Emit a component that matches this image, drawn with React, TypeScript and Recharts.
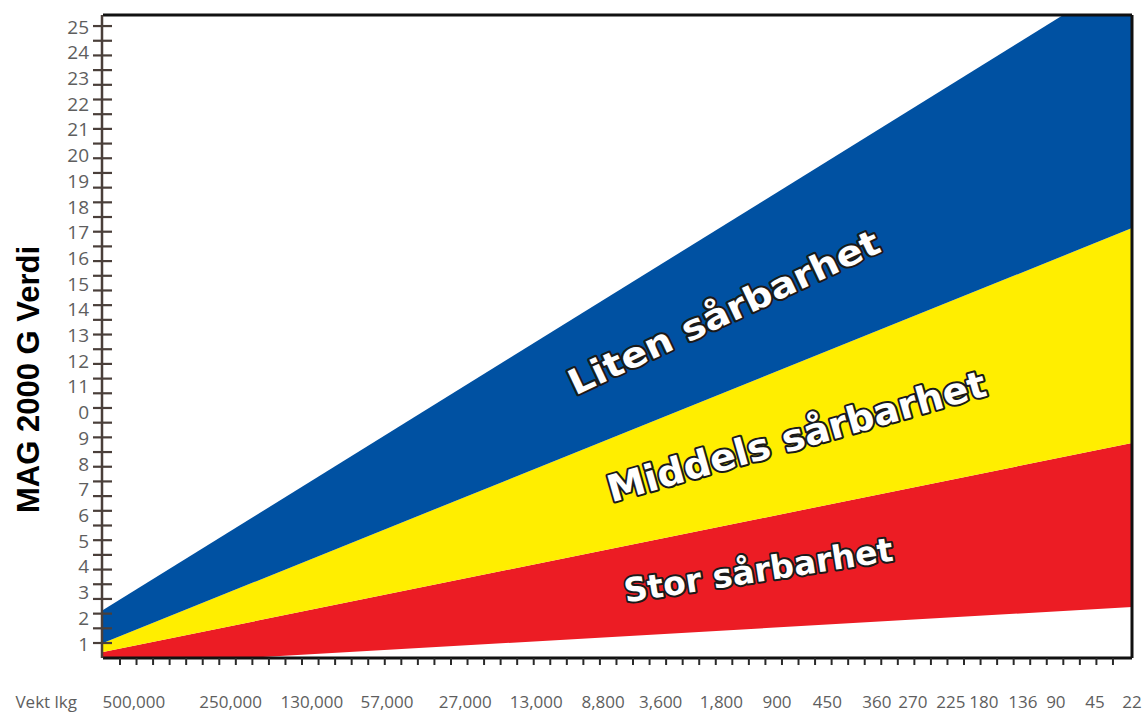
import React from 'react';
import { ComposedChart, Area, XAxis, YAxis, Scatter, Label, ReferenceLine } from 'recharts';

// Band boundaries at the left (x=0) and right (x=100) ends of the chart
const xEnds = [0, 100];
const redLow = [0.1, 2.4];
const redTop = [0.65, 8.78];
const yellowTop = [1.0, 17.14];
const blueTop = [2.28, 27.09];

// Weight labels along the bottom (Vekt lkg) and their positions on the 0-100 axis
const weightLabels = ['500,000', '250,000', '130,000', '57,000', '27,000', '13,000', '8,800', '3,600', '1,800', '900', '450', '360', '270', '225', '180', '136', '90', '45', '22'];
const weightPos = [3.0, 12.4, 20.3, 27.6, 35.2, 42.1, 48.6, 54.2, 60.1, 65.5, 70.4, 75.2, 78.7, 82.4, 85.6, 89.4, 92.6, 96.4, 100];

// Y axis labels (the original prints "0" at 10)
const yLabelValues = [1, 2, 3, 4, 5, 6, 7, 8, 9, 10, 11, 12, 13, 14, 15, 16, 17, 18, 19, 20, 21, 22, 23, 24, 25];
const yLabelText = ['1', '2', '3', '4', '5', '6', '7', '8', '9', '0', '11', '12', '13', '14', '15', '16', '17', '18', '19', '20', '21', '22', '23', '24', '25'];

// Zone annotations
const zoneText = ['Liten sårbarhet', 'Middels sårbarhet', 'Stor sårbarhet'];
const zoneX = [60.84, 67.74, 63.85];
const zoneY = [13.43, 8.55, 3.39];
const zoneAngle = [-25.2, -15.9, -8.9];

const Y_DOMAIN: [number, number] = [0.417, 25.43];
const X_DOMAIN: [number, number] = [0, 100];

const yTickMarks: number[] = [];
for (let k = 0; k <= 42; k++) yTickMarks.push(1 + (k * 24) / 42);
const xTickMarks: number[] = [];
for (let k = 0; k <= 60; k++) xTickMarks.push(1.65 + (k * (98.15 - 1.65)) / 60);

const tableData = xEnds.map((x, i) => ({
  x,
  red: [redLow[i], redTop[i]],
  yellow: [redTop[i], yellowTop[i]],
  blue: [yellowTop[i], blueTop[i]],
}));

const zoneData = zoneText.map((t, i) => ({ x: zoneX[i], y: zoneY[i], text: t, angle: zoneAngle[i] }));
const zoneSize = [35, 37, 33];
const zoneLen = [340, 392, 272];

const LABEL_FONT = '"Open Sans", "DejaVu Sans", sans-serif';
const LABEL_COLOR = '#5e5e5e';

const EmptyTick = () => <g />;

const YMarkTick = (props: any) => {
  const { x, y } = props;
  return <line x1={x - 9} x2={x + 10} y1={y} y2={y} stroke="#4a3f3a" strokeWidth={2.2} />;
};

const YLabelTick = (props: any) => {
  const { x, y, payload } = props;
  const idx = yLabelValues.indexOf(payload.value);
  return (
    <text x={x - 14} y={y + 7.5} textAnchor="end" fontFamily={LABEL_FONT} fontSize={19} fill={LABEL_COLOR}>
      {idx >= 0 ? yLabelText[idx] : ''}
    </text>
  );
};

const WeightTick = (props: any) => {
  const { x, y, payload } = props;
  const idx = weightPos.indexOf(payload.value);
  return (
    <text x={x} y={y + 40} textAnchor="middle" fontFamily={LABEL_FONT} fontSize={17} fill={LABEL_COLOR}>
      {idx >= 0 ? weightLabels[idx] : ''}
    </text>
  );
};

const ZoneShape = (props: any) => {
  const { cx, cy, payload } = props;
  const i = zoneText.indexOf(payload.text);
  return (
    <text
      x={cx}
      y={cy}
      textAnchor="middle"
      transform={`rotate(${payload.angle} ${cx} ${cy})`}
      fontFamily='"DejaVu Sans", sans-serif'
      fontWeight="bold"
      fontSize={zoneSize[i]}
      textLength={zoneLen[i]}
      lengthAdjust="spacingAndGlyphs"
      fill="#ffffff"
      stroke="#1a1a1a"
      strokeWidth={4}
      strokeLinejoin="round"
      paintOrder="stroke"
    >
      {payload.text}
    </text>
  );
};

const YTitle = (props: any) => {
  const vb = props.viewBox || { x: 101, y: 15, width: 1, height: 643 };
  const cx = vb.x + vb.width - 75;
  const cy = vb.y + vb.height / 2 + 43;
  return (
    <text x={cx} y={cy} textAnchor="middle" dominantBaseline="central" transform={`rotate(-90 ${cx} ${cy})`}
      fontFamily='"Liberation Sans", Arial, sans-serif' fontWeight="bold" fontSize={31} fill="#000">
      MAG 2000 G Verdi
    </text>
  );
};

const XTitle = (props: any) => {
  const vb = props.viewBox || { x: 103, y: 668, width: 1029, height: 45 };
  return (
    <text x={vb.x - 26} y={vb.y + 40} textAnchor="end" fontFamily={LABEL_FONT} fontSize={17} fill={LABEL_COLOR}>
      Vekt lkg
    </text>
  );
};

export default function App() {
  return (
    <div style={{ position: 'absolute', left: 0, top: 0, width: 1143, height: 713, background: '#fff' }}>
      <ComposedChart width={1143} height={713} data={tableData} margin={{ top: 15, right: 11, bottom: 0, left: 101 }}>
        <Area xAxisId="a" yAxisId="main" type="linear" dataKey="red" fill="#ec1c24" fillOpacity={1} stroke="none" isAnimationActive={false} />
        <Area xAxisId="a" yAxisId="main" type="linear" dataKey="yellow" fill="#ffee00" fillOpacity={1} stroke="none" isAnimationActive={false} />
        <Area xAxisId="a" yAxisId="main" type="linear" dataKey="blue" fill="#0051a2" fillOpacity={1} stroke="none" isAnimationActive={false} />
        <Scatter xAxisId="b" yAxisId="labels" data={zoneData} dataKey="y" shape={ZoneShape} isAnimationActive={false} />
        <ReferenceLine xAxisId="a" yAxisId="main" x={X_DOMAIN[1]} stroke="#111" strokeWidth={3} ifOverflow="visible" />
        <ReferenceLine xAxisId="a" yAxisId="main" y={Y_DOMAIN[1]} stroke="#111" strokeWidth={3} ifOverflow="visible" />
        <XAxis xAxisId="b" dataKey="x" type="number" domain={X_DOMAIN} allowDataOverflow ticks={weightPos} interval={0}
          tick={WeightTick} tickSize={0} tickMargin={0} tickLine={false} axisLine={false} height={45}>
          <Label content={XTitle} />
        </XAxis>
        <XAxis xAxisId="a" dataKey="x" type="number" domain={X_DOMAIN} allowDataOverflow ticks={xTickMarks} interval={0}
          tick={EmptyTick} tickSize={7} tickLine={{ stroke: '#2a2a2a', strokeWidth: 2 }} axisLine={{ stroke: '#111', strokeWidth: 3 }} height={10} />
        <YAxis yAxisId="main" type="number" domain={Y_DOMAIN} allowDataOverflow ticks={yTickMarks} interval={0}
          tick={YMarkTick} tickSize={0} tickMargin={0} tickLine={false} axisLine={{ stroke: '#4a3f3a', strokeWidth: 2.5 }} width={1} />
        <YAxis yAxisId="labels" type="number" domain={Y_DOMAIN} allowDataOverflow ticks={yLabelValues} interval={0}
          tick={YLabelTick} tickSize={0} tickMargin={0} tickLine={false} axisLine={false} width={1}>
          <Label content={YTitle} />
        </YAxis>
      </ComposedChart>
    </div>
  );
}
